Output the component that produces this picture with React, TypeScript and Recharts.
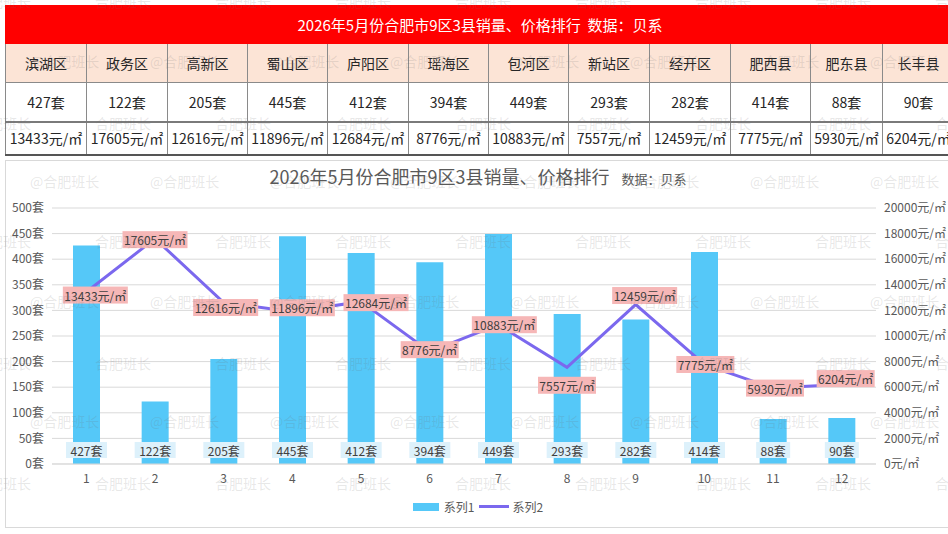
import React from "react";
import {
  ComposedChart, Bar, Line, XAxis, YAxis, CartesianGrid, LabelList,
} from "recharts";

const districts = ["滨湖区", "政务区", "高新区", "蜀山区", "庐阳区", "瑶海区", "包河区", "新站区", "经开区", "肥西县", "肥东县", "长丰县"];
const categories = ["1", "2", "3", "4", "5", "6", "7", "8", "9", "10", "11", "12"];
const sales = [427, 122, 205, 445, 412, 394, 449, 293, 282, 414, 88, 90];
const prices = [13433, 17605, 12616, 11896, 12684, 8776, 10883, 7557, 12459, 7775, 5930, 6204];
const leftTicks = [0, 50, 100, 150, 200, 250, 300, 350, 400, 450, 500];
const rightTicks = [0, 2000, 4000, 6000, 8000, 10000, 12000, 14000, 16000, 18000, 20000];

const data = categories.map((c, i) => ({ cat: c, s1: sales[i], s2: prices[i] }));

const FONT = "'Noto Sans CJK SC', 'Noto Sans', sans-serif";
const BAR = "#55C8F8";
const LINE = "#7B68EE";
const TXT = "#595959";

// little nudges so the price labels sit roughly where Excel put them
const NUDGE: [number, number][] = [
  [9, 3], [0, 1], [2, 5], [10, -4], [15, 1], [0, -2],
  [6, 0], [0, 18], [9, -9], [1, 0], [2, 0], [4, -6],
];
const COL_W = [81, 81, 80, 80, 81, 80, 80, 81, 81, 80, 72, 72];

const BarLabel = (p: any) => {
  const { x, y, width, height, value } = p;
  const txt = `${value}套`;
  const w = String(value).length * 7 + 20;
  const cx = x + width / 2;
  const cy = y + height - 14;
  return (
    <g>
      <rect x={cx - w / 2} y={cy - 8} width={w} height={16} fill="#DDF1FB" />
      <text x={cx} y={cy} textAnchor="middle" dominantBaseline="central" fontSize={12} fill="#404040" fontFamily={FONT}>{txt}</text>
    </g>
  );
};

const LineLabel = (p: any) => {
  const { x, y, value, index } = p;
  const [dx, dy] = NUDGE[index] || [0, 0];
  const w = String(value).length * 7 + 30;
  const cx = x + dx;
  const cy = y + dy;
  return (
    <g>
      <rect x={cx - w / 2} y={cy - 8.5} width={w} height={17} fill="#F6B7B7" />
      <text x={cx} y={cy} textAnchor="middle" dominantBaseline="central" fontSize={12} fill="#404040" fontFamily={FONT}>{`${value}元/㎡`}</text>
    </g>
  );
};

const cell: React.CSSProperties = {
  border: "1px solid #8a8a8a", textAlign: "center", padding: 0,
  fontSize: 14, color: "#262626", whiteSpace: "nowrap", overflow: "hidden",
};

function Watermarks() {
  const items: any[] = [];
  const rows = [0, 60, 122, 180, 240, 300, 362, 420, 482];
  rows.forEach((ry, r) => {
    const at = r % 2 === 1;
    for (let k = 0; k < 9; k++) {
      const x = at ? 30 + 120 * k : -25 + 120 * k;
      items.push(
        <span key={`${r}-${k}`} style={{ position: "absolute", left: x, top: ry - 9, fontSize: 14, color: "rgba(110,110,110,0.17)", whiteSpace: "nowrap" }}>
          {at ? "@合肥班长" : "合肥班长"}
        </span>
      );
    }
  });
  return <div style={{ position: "absolute", left: 0, top: 0, width: 948, height: 534, overflow: "hidden", pointerEvents: "none", fontFamily: FONT }}>{items}</div>;
}

export default function App() {
  return (
    <div style={{ position: "absolute", left: 0, top: 0, width: 948, height: 534, background: "#fff", overflow: "hidden", fontFamily: FONT }}>
      {/* summary table */}
      <div style={{ position: "absolute", left: 5, top: 5, width: 943, overflow: "hidden" }}>
        <table style={{ borderCollapse: "collapse", tableLayout: "fixed", width: 949, fontFamily: FONT }}>
          <colgroup>
            {COL_W.map((w, i) => <col key={i} style={{ width: w }} />)}
          </colgroup>
          <tbody>
            <tr style={{ height: 38 }}>
              <td colSpan={12} style={{ ...cell, background: "#FF0000", color: "#fff", fontSize: 15, border: "1px solid #FF0000" }}>
                2026年5月份合肥市9区3县销量、价格排行&nbsp;&nbsp;数据：贝系
              </td>
            </tr>
            <tr style={{ height: 39 }}>
              {districts.map(d => <td key={d} style={{ ...cell, background: "#FCE4D6" }}>{d}</td>)}
            </tr>
            <tr style={{ height: 39 }}>
              {sales.map((v, i) => <td key={i} style={cell}>{v}套</td>)}
            </tr>
            <tr style={{ height: 33 }}>
              {prices.map((v, i) => <td key={i} style={{ ...cell, borderTop: "2px solid #7a7a7a", borderBottom: "2px solid #555" }}>{v}元/㎡</td>)}
            </tr>
          </tbody>
        </table>
      </div>

      {/* chart frame */}
      <div style={{ position: "absolute", left: 5, top: 160, width: 950, height: 366, border: "1px solid #d9d9d9" }} />

      <div style={{ position: "absolute", left: 0, width: 956, top: 163, textAlign: "center", color: TXT, whiteSpace: "nowrap" }}>
        <span style={{ fontSize: 18 }}>2026年5月份合肥市9区3县销量、价格排行</span>
        <span style={{ fontSize: 13, marginLeft: 12 }}>数据：贝系</span>
      </div>

      <div style={{ position: "absolute", left: 5, top: 160 }}>
        <ComposedChart width={943} height={367} data={data} margin={{ top: 48, right: 0, left: 0, bottom: 33 }}>
          <CartesianGrid yAxisId="l" vertical={false} stroke="#d9d9d9" />
          <XAxis dataKey="cat" height={30} tickLine={false} axisLine={{ stroke: "#d9d9d9" }} tickMargin={4}
            tick={{ fill: TXT, fontSize: 12, fontFamily: FONT }} interval={0} />
          <YAxis yAxisId="l" orientation="left" width={47} domain={[0, 500]} ticks={leftTicks} interval={0}
            tickFormatter={(v: number) => `${v}套`} axisLine={false} tickLine={false}
            tick={{ fill: TXT, fontSize: 12, fontFamily: FONT }} />
          <YAxis yAxisId="r" orientation="right" width={72} domain={[0, 20000]} ticks={rightTicks} interval={0}
            tickFormatter={(v: number) => `${v}元/㎡`} axisLine={false} tickLine={false}
            tick={{ fill: TXT, fontSize: 12, fontFamily: FONT, textAnchor: "start" }} />
          <Bar yAxisId="l" dataKey="s1" fill={BAR} barSize={27} isAnimationActive={false}>
            <LabelList dataKey="s1" content={<BarLabel />} />
          </Bar>
          <Line yAxisId="r" dataKey="s2" stroke={LINE} strokeWidth={3} dot={false} isAnimationActive={false}>
            <LabelList dataKey="s2" content={<LineLabel />} />
          </Line>
        </ComposedChart>
      </div>

      {/* legend */}
      <div style={{ position: "absolute", left: 0, width: 956, top: 498, display: "flex", justifyContent: "center", alignItems: "center", fontSize: 12, color: TXT }}>
        <span style={{ display: "inline-block", width: 26, height: 8, background: BAR, marginRight: 5 }} />
        <span>系列1</span>
        <span style={{ display: "inline-block", width: 30, height: 3, background: LINE, margin: "0 4px" }} />
        <span>系列2</span>
      </div>

      <Watermarks />
    </div>
  );
}
